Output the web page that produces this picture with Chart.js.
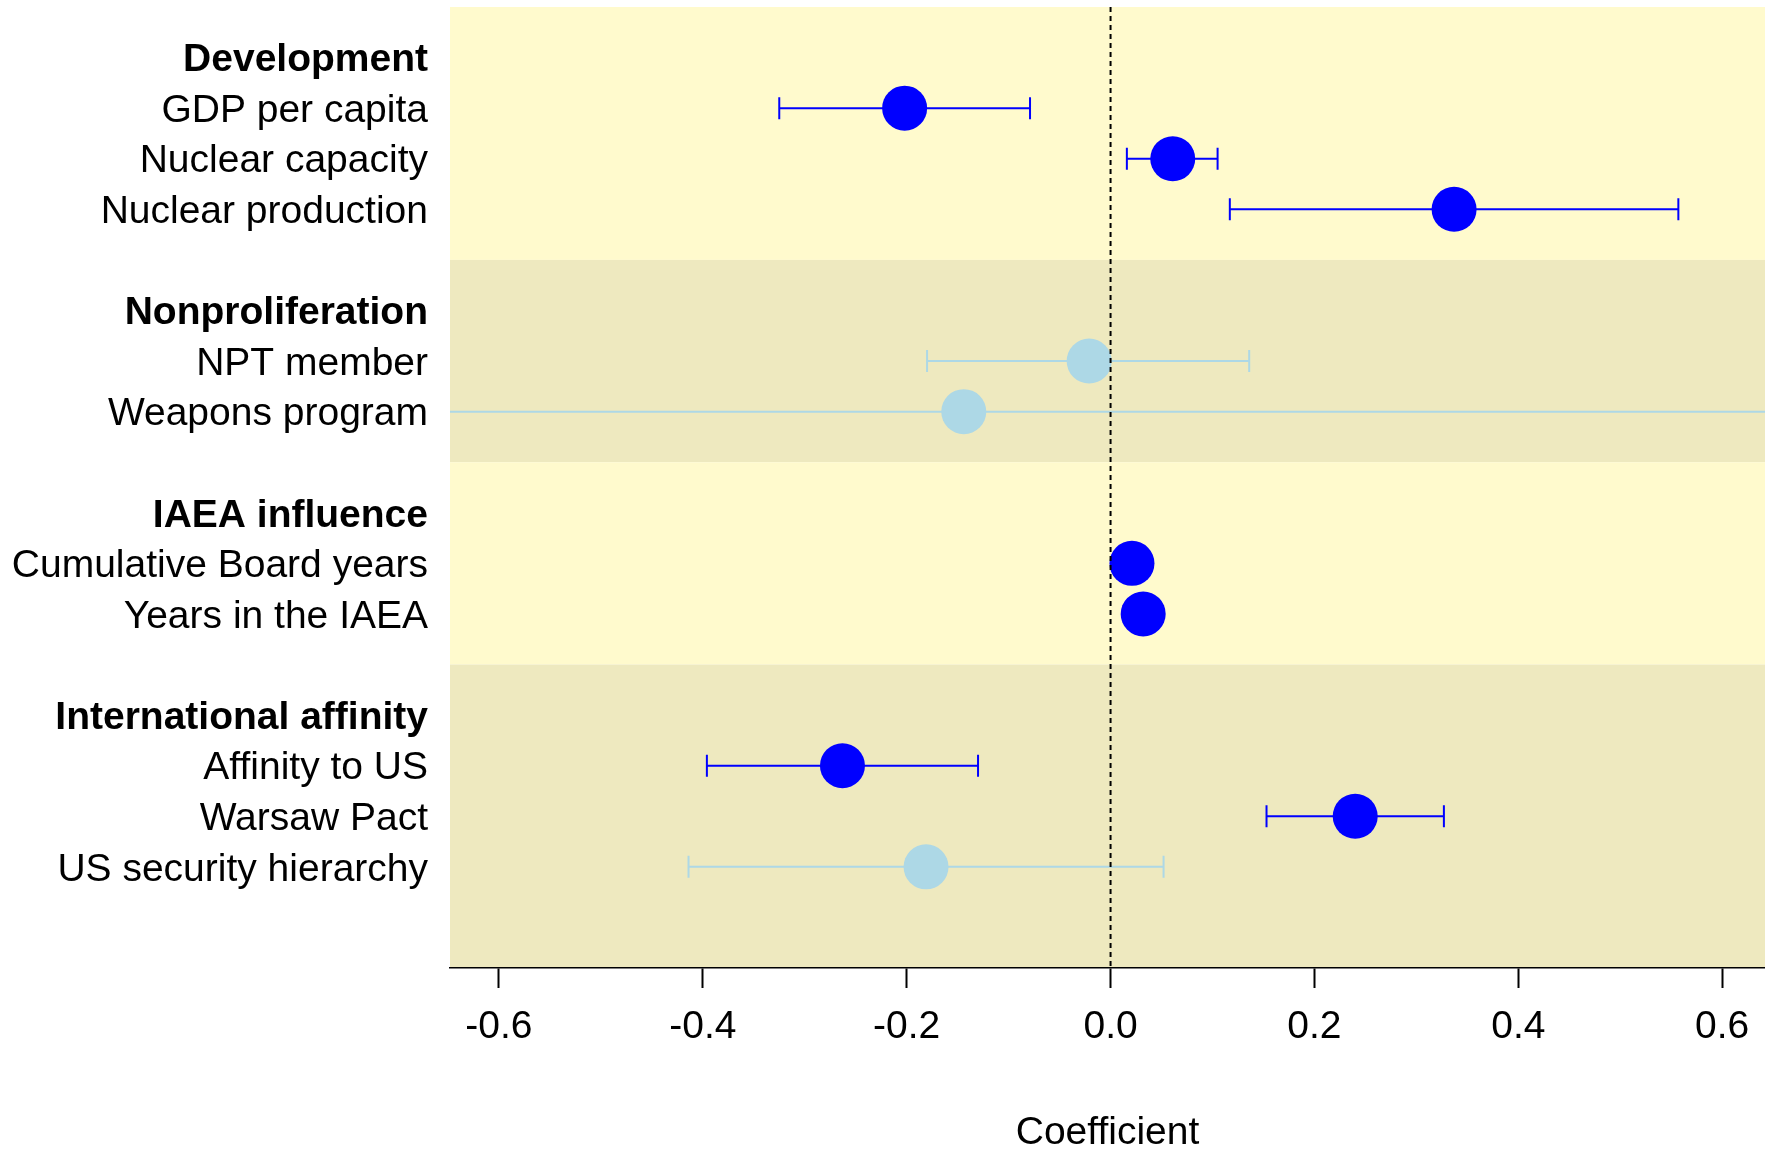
<!DOCTYPE html>
<html>
<head>
<meta charset="utf-8">
<title>Coefficient plot</title>
<script src="https://cdn.jsdelivr.net/npm/chart.js@4.4.0/dist/chart.umd.min.js"></script>
<style>
  html, body { margin: 0; padding: 0; background: #ffffff; }
  #wrap { width: 1765px; height: 1152px; position: relative; }
</style>
</head>
<body>
<div id="wrap"><canvas id="coefChart"></canvas></div>
<script>
// Row labels down the left side (rows counted from the top of the panel)
const rowLabels = ['Development', 'GDP per capita', 'Nuclear capacity', 'Nuclear production',
  'Nonproliferation', 'NPT member', 'Weapons program',
  'IAEA influence', 'Cumulative Board years', 'Years in the IAEA',
  'International affinity', 'Affinity to US', 'Warsaw Pact', 'US security hierarchy'];
const rowPositions = [1, 2, 3, 4, 6, 7, 8, 10, 11, 12, 14, 15, 16, 17];
const rowIsHeader = [true, false, false, false, true, false, false, true, false, false, true, false, false, false];

// Estimates with confidence intervals
const varRows = [2, 3, 4, 7, 8, 11, 12, 15, 16, 17];
const estimates = [-0.202, 0.061, 0.337, -0.021, -0.144, 0.021, 0.032, -0.263, 0.240, -0.181];
const lowerCI = [-0.325, 0.016, 0.117, -0.180, -0.95, 0.014, 0.025, -0.396, 0.153, -0.414];
const upperCI = [-0.079, 0.105, 0.557, 0.136, 0.95, 0.028, 0.039, -0.130, 0.327, 0.052];
const significant = [true, true, true, false, false, true, true, true, true, false];

// Shaded group bands (in row units)
const bandStart = [0, 5, 9, 13];
const bandEnd = [5, 9, 13, 19];
const bandColors = ['#FFFACD', '#EEE9BF', '#FFFACD', '#EEE9BF'];

const xTicks = [-0.6, -0.4, -0.2, 0.0, 0.2, 0.4, 0.6];

const fontFamily = '"Liberation Sans", Arial, Helvetica, sans-serif';
const sigColor = '#0000FF';
const nonSigColor = '#ADD8E6';

const bandsPlugin = {
    id: 'bands',
    beforeDraw(chart) {
        const { ctx, chartArea, scales } = chart;
        ctx.save();
        bandStart.forEach((s, i) => {
            const y1 = scales.y.getPixelForValue(s);
            const y2 = scales.y.getPixelForValue(bandEnd[i]);
            ctx.fillStyle = bandColors[i];
            ctx.fillRect(chartArea.left, y1, chartArea.right - chartArea.left, y2 - y1);
        });
        ctx.restore();
    }
};

const errorBarPlugin = {
    id: 'errorBars',
    beforeDatasetsDraw(chart) {
        const { ctx, chartArea, scales } = chart;
        ctx.save();
        ctx.beginPath();
        ctx.rect(chartArea.left, chartArea.top, chartArea.right - chartArea.left, chartArea.bottom - chartArea.top);
        ctx.clip();
        ctx.lineWidth = 2;
        varRows.forEach((r, i) => {
            const y = scales.y.getPixelForValue(r);
            const x1 = scales.x.getPixelForValue(lowerCI[i]);
            const x2 = scales.x.getPixelForValue(upperCI[i]);
            ctx.strokeStyle = significant[i] ? sigColor : nonSigColor;
            ctx.beginPath();
            ctx.moveTo(x1, y); ctx.lineTo(x2, y);
            ctx.moveTo(x1, y - 11); ctx.lineTo(x1, y + 11);
            ctx.moveTo(x2, y - 11); ctx.lineTo(x2, y + 11);
            ctx.stroke();
        });
        ctx.restore();
    }
};

const zeroLinePlugin = {
    id: 'zeroLine',
    afterDatasetsDraw(chart) {
        const { ctx, chartArea, scales } = chart;
        const x = scales.x.getPixelForValue(0);
        ctx.save();
        ctx.strokeStyle = '#000000';
        ctx.lineWidth = 2;
        ctx.setLineDash([5, 4]);
        ctx.beginPath();
        ctx.moveTo(x, chartArea.top);
        ctx.lineTo(x, chartArea.bottom);
        ctx.stroke();
        ctx.restore();
    }
};

new Chart(document.getElementById('coefChart'), {
    type: 'scatter',
    data: {
        datasets: [{
            data: estimates.map((v, i) => ({ x: v, y: varRows[i] })),
            pointRadius: 22.5,
            pointHoverRadius: 22.5,
            pointBorderWidth: 0,
            pointBackgroundColor: significant.map(s => s ? sigColor : nonSigColor),
            pointBorderColor: significant.map(s => s ? sigColor : nonSigColor)
        }]
    },
    options: {
        responsive: true,
        maintainAspectRatio: false,
        animation: false,
        events: [],
        layout: { autoPadding: false, padding: { top: 7, left: 0, right: 0, bottom: 0 } },
        plugins: {
            legend: { display: false },
            tooltip: { enabled: false }
        },
        scales: {
            x: {
                type: 'linear',
                min: -0.648,
                max: 0.642,
                afterBuildTicks: (scale) => { scale.ticks = xTicks.map(v => ({ value: v })); },
                afterFit: (scale) => {
                    scale.height = 184;
                    scale.paddingLeft = 0;
                    scale.paddingRight = 0;
                },
                grid: {
                    drawOnChartArea: false,
                    drawTicks: true,
                    tickLength: 20,
                    tickColor: '#000000',
                    tickWidth: 2
                },
                border: { display: true, color: '#000000', width: 1.5 },
                ticks: {
                    color: '#000000',
                    padding: 16,
                    maxRotation: 0,
                    font: { family: fontFamily, size: 39 },
                    callback: (v) => v.toFixed(1)
                },
                title: {
                    display: true,
                    text: 'Coefficient',
                    color: '#000000',
                    padding: { top: 0, bottom: 0 },
                    font: { family: fontFamily, size: 39, lineHeight: 0.95 }
                }
            },
            y: {
                type: 'linear',
                min: 0,
                max: 19,
                reverse: true,
                afterBuildTicks: (scale) => { scale.ticks = rowPositions.map(v => ({ value: v })); },
                afterFit: (scale) => {
                    scale.width = 450;
                    scale.paddingTop = 0;
                    scale.paddingBottom = 0;
                },
                grid: { display: false, drawTicks: false },
                border: { display: false },
                ticks: {
                    color: '#000000',
                    padding: 22,
                    labelOffset: 3,
                    autoSkip: false,
                    font: (ctx) => ({
                        family: fontFamily,
                        size: 39,
                        weight: rowIsHeader[ctx.index] ? 'bold' : 'normal'
                    }),
                    callback: (v, i) => rowLabels[i]
                }
            }
        }
    },
    plugins: [bandsPlugin, errorBarPlugin, zeroLinePlugin]
});
</script>
</body>
</html>
